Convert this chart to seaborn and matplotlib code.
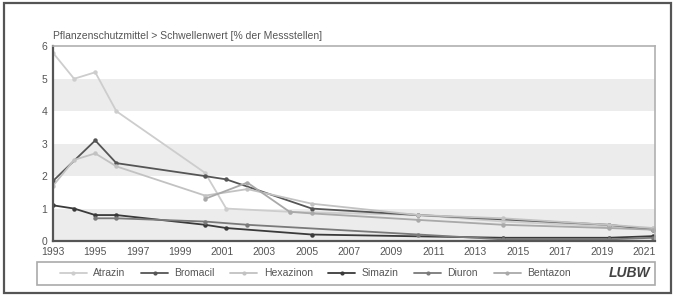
import matplotlib
matplotlib.use("Agg")
import matplotlib.pyplot as plt
import pandas as pd
import seaborn as sns
from matplotlib.patches import Rectangle

# values (x = sampling campaign, fractional year)
atrazin_x = [1993, 1994, 1995, 1996, 2000.2, 2001.2, 2004.2, 2010.3, 2014.3, 2019.3, 2021.4]
atrazin_y = [5.8, 5.0, 5.2, 4.0, 2.1, 1.0, 0.9, 0.8, 0.6, 0.45, 0.4]
bromacil_x = [1993, 1995, 1996, 2000.2, 2001.2, 2005.25, 2010.3, 2019.3, 2021.4]
bromacil_y = [1.85, 3.1, 2.4, 2.0, 1.9, 1.0, 0.8, 0.5, 0.35]
hexazinon_x = [1993, 1994, 1995, 1996, 2000.2, 2002.2, 2005.25, 2010.3, 2014.3, 2019.3, 2021.4]
hexazinon_y = [1.7, 2.5, 2.7, 2.3, 1.4, 1.6, 1.15, 0.8, 0.7, 0.5, 0.4]
simazin_x = [1993, 1994, 1995, 1996, 2000.2, 2001.2, 2005.25, 2014.3, 2019.3, 2021.4]
simazin_y = [1.1, 1.0, 0.8, 0.8, 0.5, 0.4, 0.2, 0.1, 0.1, 0.15]
diuron_x = [1995, 1996, 2000.2, 2002.2, 2010.3, 2014.3, 2019.3, 2021.4]
diuron_y = [0.7, 0.7, 0.6, 0.5, 0.2, 0.05, 0.05, 0.1]
bentazon_x = [2000.2, 2002.2, 2004.2, 2005.25, 2010.3, 2014.3, 2019.3, 2021.4]
bentazon_y = [1.3, 1.8, 0.9, 0.85, 0.65, 0.5, 0.4, 0.35]

stoffe = ["Atrazin", "Bromacil", "Hexazinon", "Simazin", "Diuron", "Bentazon"]
farben = ["#cdcdcd", "#555555", "#c2c2c2", "#3a3a3a", "#7a7a7a", "#a9a9a9"]
x_ticks = list(range(1993, 2022, 2))
y_ticks = [0, 1, 2, 3, 4, 5, 6]

series = {
    "Atrazin": (atrazin_x, atrazin_y),
    "Bromacil": (bromacil_x, bromacil_y),
    "Hexazinon": (hexazinon_x, hexazinon_y),
    "Simazin": (simazin_x, simazin_y),
    "Diuron": (diuron_x, diuron_y),
    "Bentazon": (bentazon_x, bentazon_y),
}
rows = []
for name, (xs, ys) in series.items():
    for x, y in zip(xs, ys):
        rows.append({"Jahr": x, "Wert": y, "Stoff": name})
df = pd.DataFrame(rows)

sns.set_style("white")
plt.rcParams["font.family"] = ["Liberation Sans", "DejaVu Sans"]

fig = plt.figure(figsize=(6.75, 2.95), dpi=100)
ax = fig.add_axes([0.0785, 0.183, 0.892, 0.660])

# grey bands
for lo in [0, 2, 4]:
    ax.axhspan(lo, lo + 1, color="#ececec", zorder=0, lw=0)

sns.lineplot(data=df, x="Jahr", y="Wert", hue="Stoff", hue_order=stoffe,
             palette=dict(zip(stoffe, farben)), marker="o", markersize=3.2,
             markeredgewidth=0, linewidth=1.3, sort=False, legend=False, ax=ax)

ax.set_xlim(1993, 2021.5)
ax.set_ylim(0, 6)
ax.set_xticks(x_ticks)
ax.set_yticks(y_ticks)
ax.set_xlabel("")
ax.set_ylabel("")
ax.tick_params(axis="both", direction="out", length=3, width=1, color="#555555",
               labelsize=7.5, labelcolor="#555555", pad=1)
for s in ["left", "bottom"]:
    ax.spines[s].set_color("#555555")
    ax.spines[s].set_linewidth(1.6)
for s in ["top", "right"]:
    ax.spines[s].set_color("#b0b0b0")
    ax.spines[s].set_linewidth(1.2)

fig.text(0.0785, 0.862, "Pflanzenschutzmittel > Schwellenwert [% der Messstellen]",
         fontsize=7.5, color="#555555", ha="left", va="bottom")

# legend box
handles = [plt.Line2D([], [], color=c, lw=1.3, marker="o", markersize=3, markeredgewidth=0)
           for c in farben]
leg = fig.legend(handles, stoffe, loc="center", ncol=6, frameon=False,
                 bbox_to_anchor=(0.467, 0.073), fontsize=7.5, handlelength=2.6,
                 columnspacing=1.5, handletextpad=0.6, labelcolor="#555555")
fig.patches.append(Rectangle((0.055, 0.034), 0.915, 0.078, transform=fig.transFigure,
                             fill=False, edgecolor="#aaaaaa", lw=1.2))
fig.text(0.932, 0.073, "LUBW", fontsize=10, fontweight="bold", fontstyle="italic",
         color="#444444", ha="center", va="center")

# outer frame
fig.patches.append(Rectangle((0.006, 0.008), 0.988, 0.982, transform=fig.transFigure,
                             fill=False, edgecolor="#555555", lw=1.6))

fig.savefig("out.png", dpi=100, facecolor="white")
